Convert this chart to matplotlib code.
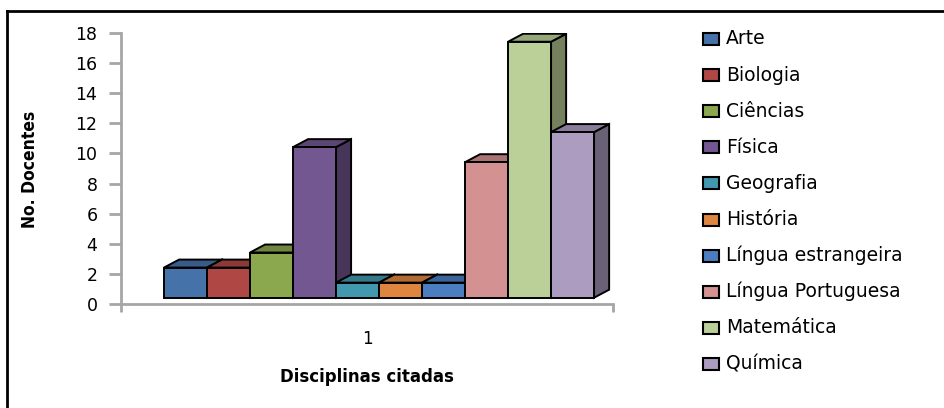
import matplotlib.pyplot as plt
from matplotlib.patches import Polygon, Rectangle
from matplotlib.lines import Line2D
import matplotlib.colors as mcolors

# Data
disciplinas = ["Arte", "Biologia", "Ciências", "Física", "Geografia", "História",
               "Língua estrangeira", "Língua Portuguesa", "Matemática", "Química"]
docentes = [2, 2, 3, 10, 1, 1, 1, 9, 17, 11]
colors = ["#4672AA", "#AF4745", "#8CA84F", "#735790", "#4198AF", "#DE8640",
          "#4A7EC0", "#D39191", "#BBCF98", "#AC9CC0"]
yticks = list(range(0, 20, 2))
category = "1"

W, H = 944, 408
fig = plt.figure(figsize=(W / 100, H / 100), dpi=100)

# axes box in pixel terms (from the reference)
x0, x1, y0, y1 = 121, 613, 33, 304
ax = fig.add_axes([x0 / W, 1 - y1 / H, (x1 - x0) / W, (y1 - y0) / H])
xmax = 11.44
ax.set_xlim(0, xmax)
ax.set_ylim(0, 18)

# pseudo-3D offsets in data units
base = 0.42
dx, dy = 0.35, 0.53


def shade(c, f):
    r, g, b = mcolors.to_rgb(c)
    return (r * f, g * f, b * f)


for i, (v, c) in enumerate(zip(docentes, colors)):
    left = i + 1
    right = left + 1
    top = base + v
    side = Polygon([(right, base), (right + dx, base + dy), (right + dx, top + dy), (right, top)],
                   closed=True, facecolor=shade(c, 0.62), edgecolor="black", lw=1.4, zorder=3 + i)
    cap = Polygon([(left, top), (left + dx, top + dy), (right + dx, top + dy), (right, top)],
                  closed=True, facecolor=shade(c, 0.8), edgecolor="black", lw=1.4, zorder=3 + i)
    ax.add_patch(side)
    ax.add_patch(cap)
    ax.bar(left, v, width=1, bottom=base, align="edge", color=c,
           edgecolor="black", lw=1.4, zorder=3 + i)

axis_grey = "#A6A6A6"
for s in ["top", "right"]:
    ax.spines[s].set_visible(False)
for s in ["left", "bottom"]:
    ax.spines[s].set_color(axis_grey)
    ax.spines[s].set_linewidth(2)

ax.set_yticks(yticks)
ax.tick_params(axis="y", direction="out", length=9, width=2, color=axis_grey,
               labelsize=12.5, pad=8)
ax.set_xticks([0, xmax])
ax.set_xticklabels(["", ""])
ax.tick_params(axis="x", direction="out", length=6, width=2, color=axis_grey)
ax.set_xticks([xmax / 2], minor=True)
ax.set_xticklabels([category], minor=True)
ax.tick_params(axis="x", which="minor", length=0, labelsize=12, pad=19)

ax.set_xlabel("Disciplinas citadas", fontsize=12, fontweight="bold", labelpad=14)
fig.text(30 / W, 1 - 169 / H, "No. Docentes", rotation=90, ha="center", va="center",
         fontsize=12.5, fontstretch="condensed", fontweight="bold")

# legend drawn row by row
for k, (lab, c) in enumerate(zip(disciplinas, colors)):
    yc = 39 + 36.1 * k
    fig.add_artist(Rectangle((703 / W, 1 - (yc + 6) / H), 16 / W, 12 / H,
                             facecolor=c, edgecolor="black", lw=1.5))
    fig.text(726 / W, 1 - yc / H, lab, ha="left", va="center", fontsize=13.5)

# outer frame (left and top edges visible)
fig.add_artist(Line2D([7 / W, 7 / W], [0, 1 - 11 / H], color="black", lw=2))
fig.add_artist(Line2D([7 / W, 1], [1 - 11 / H, 1 - 11 / H], color="black", lw=2))

fig.savefig("out.png", dpi=100)
